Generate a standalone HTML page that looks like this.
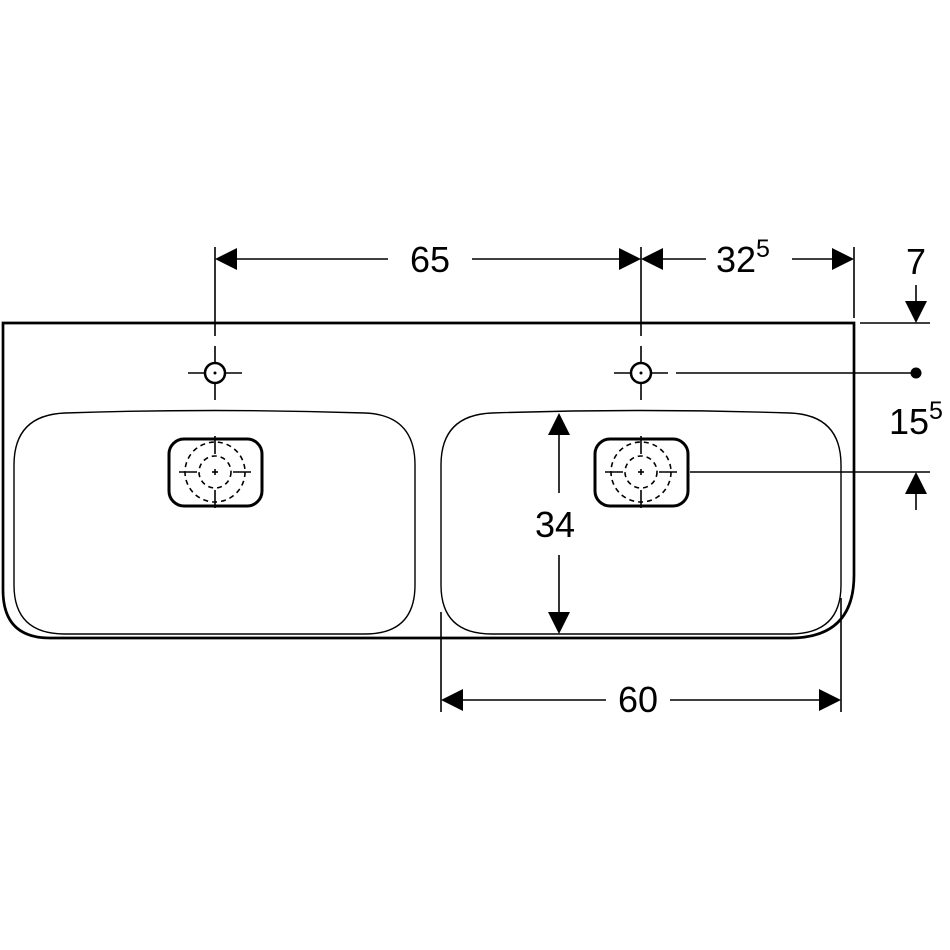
<!DOCTYPE html>
<html><head><style>html,body{margin:0;padding:0;background:#fff}svg{display:block}</style></head>
<body>
<svg width="950" height="950" viewBox="0 0 950 950" xmlns="http://www.w3.org/2000/svg" font-family="Liberation Sans, sans-serif">
<defs>
<g id="drain">
<rect x="-46" y="-33" width="93" height="67" rx="15" fill="none" stroke="#000" stroke-width="3"/>
<circle r="30" fill="none" stroke="#000" stroke-width="1.6" stroke-dasharray="5,4"/>
<circle r="16" fill="none" stroke="#000" stroke-width="1.6" stroke-dasharray="5,4"/>
<g stroke="#000" stroke-width="1.6">
<line x1="0" y1="-36" x2="0" y2="-18"/><line x1="0" y1="18" x2="0" y2="36"/>
<line x1="-36" y1="0" x2="-18" y2="0"/><line x1="18" y1="0" x2="36" y2="0"/>
<line x1="-3" y1="0" x2="3" y2="0"/><line x1="0" y1="-3" x2="0" y2="3"/>
</g>
</g>
<g id="tap">
<circle r="10" fill="none" stroke="#000" stroke-width="2.5"/>
<circle r="1.5" fill="#000"/>
<g stroke="#000" stroke-width="1.6">
<line x1="-27" y1="0" x2="-10" y2="0"/><line x1="10" y1="0" x2="27" y2="0"/>
<line x1="0" y1="-27" x2="0" y2="-10"/><line x1="0" y1="10" x2="0" y2="27"/>
</g>
</g>
</defs>

<path d="M3,323 L854,323 L854,575 Q854,638 790,638 L50,638 Q3,638 3,590 Z" fill="none" stroke="#000" stroke-width="2.7"/>
<path d="M65,413 Q214,408 365,413 Q415,415 415,465 L415,585 Q415,634 365,634 L65,634 Q14,634 14,585 L14,465 Q14,415 65,413 Z" fill="none" stroke="#000" stroke-width="1.4"/>
<path d="M492,413 Q641,408 790,413 Q841,415 841,465 L841,585 Q841,634 790,634 L492,634 Q441,634 441,585 L441,465 Q441,415 492,413 Z" fill="none" stroke="#000" stroke-width="1.4"/>

<use href="#drain" x="215" y="472"/>
<use href="#drain" x="641" y="472"/>
<use href="#tap" x="215" y="373"/>
<use href="#tap" x="641" y="373"/>

<g stroke="#000" stroke-width="1.6" fill="none">
<line x1="215" y1="247" x2="215" y2="336"/>
<line x1="641" y1="247" x2="641" y2="336"/>
<line x1="854" y1="247" x2="854" y2="318"/>
<line x1="860" y1="323" x2="930" y2="323"/>
<line x1="676" y1="373" x2="916" y2="373"/>
<line x1="690" y1="472" x2="930" y2="472"/>
<line x1="441" y1="612" x2="441" y2="712"/>
<line x1="841" y1="598" x2="841" y2="712"/>
<line x1="225" y1="259" x2="388" y2="259"/>
<line x1="472" y1="259" x2="630" y2="259"/>
<line x1="652" y1="259" x2="706" y2="259"/>
<line x1="792" y1="259" x2="845" y2="259"/>
<line x1="916" y1="285" x2="916" y2="310"/>
<line x1="916" y1="485" x2="916" y2="510"/>
<line x1="559" y1="425" x2="559" y2="493"/>
<line x1="559" y1="555" x2="559" y2="622"/>
<line x1="452" y1="700" x2="606" y2="700"/>
<line x1="670" y1="700" x2="830" y2="700"/>
</g>
<g fill="#000">
<polygon points="215,259 237,248 237,270"/>
<polygon points="641,259 619,248 619,270"/>
<polygon points="641,259 663,248 663,270"/>
<polygon points="854,259 832,248 832,270"/>
<polygon points="916,323 905,301 927,301"/>
<polygon points="916,472 905,494 927,494"/>
<circle cx="916" cy="373" r="5.5"/>
<polygon points="559,413 548,435 570,435"/>
<polygon points="559,634 548,612 570,612"/>
<polygon points="441,700 463,689 463,711"/>
<polygon points="841,700 819,689 819,711"/>
</g>
<g font-size="36" fill="#000">
<text x="430" y="272" text-anchor="middle">65</text>
<text x="716" y="272">32<tspan font-size="25" dy="-15">5</tspan></text>
<text x="916" y="274" text-anchor="middle">7</text>
<text x="889" y="434">15<tspan font-size="25" dy="-15">5</tspan></text>
<text x="555" y="537" text-anchor="middle">34</text>
<text x="638" y="712" text-anchor="middle">60</text>
</g>
</svg>
</body></html>
